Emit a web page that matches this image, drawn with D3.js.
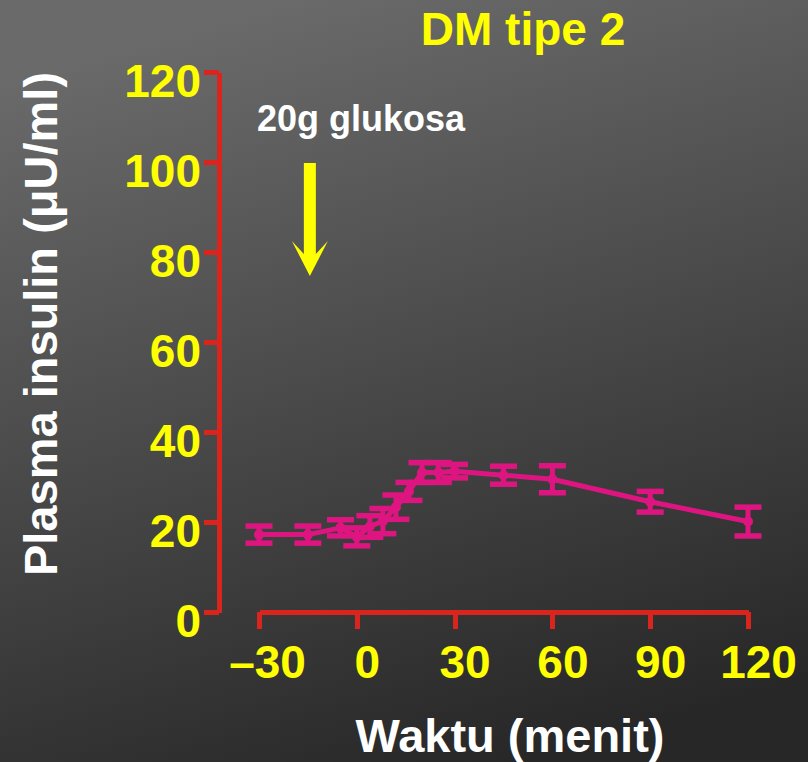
<!DOCTYPE html>
<html>
<head>
<meta charset="utf-8">
<script src="https://cdn.jsdelivr.net/npm/d3@7"></script>
<style>
  html, body { margin: 0; padding: 0; background: #333; }
  svg { display: block; }
  text { font-family: "Liberation Sans", Arial, sans-serif; font-weight: bold; }
</style>
</head>
<body>
<svg id="chart" width="808" height="762"></svg>
<script>
// Plasma insulin after a 20 g glucose load, type 2 diabetes
const times   = [-30, -15, -5, 0, 4, 8, 12, 16, 20, 25, 30, 45, 60, 90, 120];
const insulin = [17.2, 17.2, 18.7, 16.7, 19.0, 20.2, 23.3, 26.8, 31.0, 31.0, 31.3, 30.4, 29.5, 24.5, 20.1];
const sem     = [1.9, 1.9, 1.8, 2.0, 2.4, 2.8, 2.7, 2.0, 2.2, 2.2, 1.5, 2.0, 3.0, 2.3, 3.2];

const xTicks = [-30, 0, 30, 60, 90, 120];
const xTickLabels = ["\u201330", "0", "30", "60", "90", "120"];
const yTicks = [0, 20, 40, 60, 80, 100, 120];

const doseTime = -14.4;

const RED = "#d9251d", PINK = "#de1580", YELLOW = "#ffff00";

const svg = d3.select("#chart");
const W = 808, H = 762;

// background
const defs = svg.append("defs");
const grad = defs.append("linearGradient").attr("id", "bg")
  .attr("x1", "0.35").attr("y1", "0").attr("x2", "0.65").attr("y2", "1");
grad.append("stop").attr("offset", "0").attr("stop-color", "#6a6a6a");
grad.append("stop").attr("offset", "1").attr("stop-color", "#272727");
svg.append("rect").attr("width", W).attr("height", H).attr("fill", "url(#bg)");

const x = d3.scaleLinear().domain([-30, 120]).range([259, 748]);
const y = d3.scaleLinear().domain([0, 120]).range([612, 72]);

// y axis
const gy = svg.append("g").attr("transform", "translate(219,0)")
  .call(d3.axisLeft(y).tickValues(yTicks).tickSize(15).tickSizeOuter(0).tickPadding(3));
gy.select(".domain").attr("stroke", RED).attr("stroke-width", 4.5);
gy.selectAll(".tick line").attr("stroke", RED).attr("stroke-width", 5);
gy.selectAll(".tick text").attr("fill", YELLOW).attr("font-size", 46)
  .attr("font-family", null).attr("dy", "0.54em");

// x axis
const gx = svg.append("g").attr("transform", "translate(0,612)")
  .call(d3.axisBottom(x).tickValues(xTicks).tickSize(17).tickSizeOuter(0).tickPadding(16)
    .tickFormat((d, i) => xTickLabels[i]));
gx.select(".domain").attr("stroke", RED).attr("stroke-width", 5);
gx.selectAll(".tick line").attr("stroke", RED).attr("stroke-width", 5);
gx.selectAll(".tick text").attr("fill", YELLOW).attr("font-size", 46)
  .attr("font-family", null).attr("dx", (d, i) => i === 0 ? 8 : 10);
svg.selectAll(".domain, .tick line").attr("shape-rendering", "crispEdges");

// data
const pts = times.map((t, i) => ({ t, v: insulin[i], e: sem[i] }));
const capW = 13.5;

const bars = svg.append("g").attr("stroke", PINK).attr("fill", "none");
pts.forEach(p => {
  const cx = x(p.t), yt = y(p.v + p.e), yb = y(p.v - p.e);
  bars.append("line").attr("x1", cx).attr("x2", cx).attr("y1", yt).attr("y2", yb).attr("stroke-width", 5);
  bars.append("line").attr("x1", cx - capW).attr("x2", cx + capW).attr("y1", yt).attr("y2", yt).attr("stroke-width", 5.5);
  bars.append("line").attr("x1", cx - capW).attr("x2", cx + capW).attr("y1", yb).attr("y2", yb).attr("stroke-width", 5.5);
});

svg.append("path").datum(pts)
  .attr("fill", "none").attr("stroke", PINK).attr("stroke-width", 5)
  .attr("stroke-linejoin", "round")
  .attr("d", d3.line().x(d => x(d.t)).y(d => y(d.v)));

svg.append("g").selectAll("circle").data(pts).join("circle")
  .attr("cx", d => x(d.t)).attr("cy", d => y(d.v)).attr("r", 5).attr("fill", PINK);

// glucose load annotation
const ax = x(doseTime);
svg.append("path").attr("fill", YELLOW)
  .attr("d", `M${ax - 6},163 H${ax + 6} V254 L${ax + 18},241 L${ax},276 L${ax - 18},241 L${ax - 6},254 Z`);
svg.append("text").attr("x", 257).attr("y", 131).attr("fill", "#ffffff")
  .attr("font-size", 36).text("20g glukosa");

// titles
svg.append("text").attr("x", 523).attr("y", 45).attr("text-anchor", "middle")
  .attr("fill", YELLOW).attr("font-size", 46).text("DM tipe 2");

svg.append("text").attr("x", 510).attr("y", 752).attr("text-anchor", "middle")
  .attr("fill", "#ffffff").attr("font-size", 47).text("Waktu (menit)");

svg.append("text").attr("transform", "translate(57,324) rotate(-90)")
  .attr("text-anchor", "middle").attr("fill", "#ffffff").attr("font-size", 47)
  .text("Plasma insulin (\u03bcU/ml)");
</script>
</body>
</html>
